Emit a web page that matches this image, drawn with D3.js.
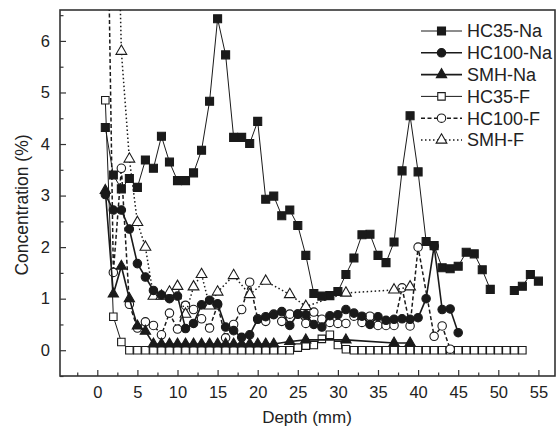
<!DOCTYPE html>
<html>
<head>
<meta charset="utf-8">
<style>
body { margin: 0; background: #fff; }
svg { font-family: "Liberation Sans", Arial, sans-serif; }
.axis path { display: none; }
.axis line { stroke: #333; stroke-width: 1.2; }
.axis text { font-size: 16.5px; fill: #222; }
</style>
</head>
<body>
<script src="https://d3js.org/d3.v7.min.js"></script>
<script>

// depths (mm) and concentrations (%)
const hc35NaDepth = d3.range(1, 56);
const hc35NaVal = [4.32, 3.40, 3.13, 3.33, 3.16, 3.69, 3.53, 4.15, 3.65, 3.29,
  3.29, 3.44, 3.88, 4.83, 6.43, 5.73, 4.13, 4.13, 4.01, 4.44,
  2.93, 2.99, 2.61, 2.72, 2.42, 1.84, 1.10, 1.05, 1.06, 1.14,
  1.47, 1.79, 2.24, 2.25, 1.84, 1.70, 2.10, 3.48, 4.55, 3.46,
  2.11, 2.03, 1.60, 1.58, 1.63, 1.90, 1.87, 1.56, 1.18, null,
  null, 1.16, 1.24, 1.47, 1.34];

const hc100NaDepth = d3.range(1, 46);
const hc100NaVal = [3.02, 2.72, 2.72, 2.35, 1.68, 1.42, 1.16, 1.07, 1.00, 1.05,
  0.42, 0.52, 0.88, 0.97, 0.90, 0.45, 0.38, 0.25, 0.30, 0.60,
  0.65, 0.69, 0.75, 0.48, 0.70, 0.69, 0.50, 0.45, 0.67, 0.69,
  0.79, 0.72, 0.66, 0.50, 0.65, 0.58, 0.60, 0.61, 0.60, 0.63,
  1.00, 2.02, 0.79, 0.80, 0.34];

const smhNaDepth = [1, 2, 3, 4, 5, 6, 7, 8, 9, 10, 11, 12, 13, 14, 15, 16, 17, 18, 19, 20, 21, 22, 24, 26, 31, 37, 39];
const smhNaVal = [3.10, 1.09, 1.63, 1.00, 0.47, 0.37, 0.12, 0.12, 0.12, 0.12,
  0.12, 0.12, 0.12, 0.12, 0.12, 0.12, 0.12, 0.12, 0.12, 0.12,
  0.12, 0.12, 0.17, 0.20, 0.20, 0.14, 0.14];

const hc35FDepth = d3.range(1, 54);
const hc35FVal = [4.85, 0.65, 0.16, 0, 0, 0, 0, 0, 0, 0,
  0, 0, 0, 0, 0, 0, 0, 0, 0, 0,
  0, 0, 0, 0, 0.05, 0.09, 0.10, 0.22, 0.30, 0.10,
  0.02, 0, 0, 0, 0, 0, 0, 0, 0, 0,
  0, 0, 0, 0, 0, 0, 0, 0, 0, 0,
  0, 0, 0];

const hc100FDepth = d3.range(1, 41).concat([42, 43, 44]);
const hc100FVal = [11.7, 1.51, 3.53, 0.89, 0.43, 0.55, 0.48, 0.30, 0.72, 0.41,
  0.87, 0.79, 0.61, 0.43, 0.88, 0.24, 0.50, 0.79, 1.32, 0.61,
  0.56, 0.70, 0.56, 0.70, 0.70, 0.52, 0.74, 0.60, 0.54, 0.52,
  0.52, 0.66, 0.54, 0.66, 0.48, 0.48, 0.48, 1.21, 0.47, 2.00,
  0.27, 0.47, 0.02];

const smhFDepth = [2, 3, 4, 5, 6, 7, 8, 9, 10, 11, 12, 13, 14, 15, 17, 19, 21, 24, 26, 31, 37, 39];
const smhFVal = [12.5, 5.80, 3.71, 2.48, 2.00, 1.05, 1.05, 1.13, 1.24, 0.70,
  1.23, 1.47, 0.86, 1.13, 1.45, 1.08, 1.34, 1.08, 0.85, 1.11, 1.17, 1.23];

const seriesNames = ["HC35-Na", "HC100-Na", "SMH-Na", "HC35-F", "HC100-F", "SMH-F"];

const xTicks = [0, 5, 10, 15, 20, 25, 30, 35, 40, 45, 50, 55];
const yTicks = [0, 1, 2, 3, 4, 5, 6];

// ---- layout
const W = 557, H = 433;
const plot = {left: 60, right: 555, top: 10, bottom: 376};

const x = d3.scaleLinear().domain([-4.65, 57.07]).range([plot.left, plot.right]);
const y = d3.scaleLinear().domain([-0.5, 6.6]).range([plot.bottom, plot.top]);

const svg = d3.select("body").append("svg")
    .attr("width", W)
    .attr("height", H);

svg.append("defs").append("clipPath").attr("id", "clip")
  .append("rect")
    .attr("x", plot.left).attr("y", plot.top)
    .attr("width", plot.right - plot.left)
    .attr("height", plot.bottom - plot.top);

// axes, ticks pointing inward
svg.append("g").attr("class", "axis")
    .attr("transform", "translate(0," + plot.bottom + ")")
    .call(d3.axisBottom(x).tickValues(xTicks).tickSize(-6).tickPadding(10));
svg.append("g").attr("class", "axis")
    .attr("transform", "translate(0," + plot.bottom + ")")
    .call(d3.axisBottom(x).tickValues(d3.range(-2.5, 57, 5)).tickSize(-3.5).tickFormat(""));

svg.append("g").attr("class", "axis")
    .attr("transform", "translate(" + plot.left + ",0)")
    .call(d3.axisLeft(y).tickValues(yTicks).tickSize(-6).tickPadding(10));
svg.append("g").attr("class", "axis")
    .attr("transform", "translate(" + plot.left + ",0)")
    .call(d3.axisLeft(y).tickValues(d3.range(-0.5, 6.6, 1)).tickSize(-3.5).tickFormat(""));

// frame
svg.append("rect")
    .attr("x", plot.left).attr("y", plot.top)
    .attr("width", plot.right - plot.left)
    .attr("height", plot.bottom - plot.top)
    .attr("fill", "none")
    .attr("stroke", "#333")
    .attr("stroke-width", 1.6);

// axis titles
svg.append("text")
    .attr("x", 307).attr("y", 423)
    .attr("text-anchor", "middle")
    .style("font-size", "17px").style("fill", "#222")
    .text("Depth (mm)");

svg.append("text")
    .attr("transform", "translate(28,205) rotate(-90)")
    .attr("text-anchor", "middle")
    .style("font-size", "17.5px").style("fill", "#222")
    .text("Concentration (%)");

// ---- series
const ink = "#1a1a1a";
const styles = [
  {sym: d3.symbolSquare, size: 64, fill: ink, width: 1, dash: null},
  {sym: d3.symbolCircle, size: 56, fill: ink, width: 1.6, dash: null},
  {sym: d3.symbolTriangle, size: 46, fill: ink, width: 1.6, dash: null},
  {sym: d3.symbolSquare, size: 56, fill: "#fff", width: 1, dash: null},
  {sym: d3.symbolCircle, size: 56, fill: "#fff", width: 1.5, dash: "4,2.5"},
  {sym: d3.symbolTriangle, size: 50, fill: "#fff", width: 1.5, dash: "1.5,2.5"}
];

function pairs(depths, vals) {
  return depths.map((d, i) => ({d: d, v: vals[i]}));
}

const allSeries = [
  pairs(hc35NaDepth, hc35NaVal),
  pairs(hc100NaDepth, hc100NaVal),
  pairs(smhNaDepth, smhNaVal),
  pairs(hc35FDepth, hc35FVal),
  pairs(hc100FDepth, hc100FVal),
  pairs(smhFDepth, smhFVal)
];

const line = d3.line()
    .defined(p => p.v !== null)
    .x(p => x(p.d))
    .y(p => y(p.v));

const plotG = svg.append("g").attr("clip-path", "url(#clip)");

// draw open (F) series first, Na series on top of their lines
const order = [3, 4, 5, 2, 1, 0];
order.forEach(function(k) {
  const st = styles[k];
  const data = allSeries[k];
  const g = plotG.append("g");
  g.append("path")
      .datum(data)
      .attr("fill", "none")
      .attr("stroke", ink)
      .attr("stroke-width", st.width)
      .attr("stroke-dasharray", st.dash)
      .attr("d", line);
  g.selectAll("path.pt")
      .data(data.filter(p => p.v !== null))
    .enter().append("path")
      .attr("class", "pt")
      .attr("transform", p => "translate(" + x(p.d) + "," + y(p.v) + ")")
      .attr("d", d3.symbol().type(st.sym).size(st.size))
      .attr("fill", st.fill)
      .attr("stroke", ink)
      .attr("stroke-width", 1.1);
});

// ---- legend
const legend = svg.append("g");
seriesNames.forEach(function(name, i) {
  const st = styles[i];
  const ly = 31 + i * 21.8;
  legend.append("line")
      .attr("x1", 421).attr("x2", 462)
      .attr("y1", ly).attr("y2", ly)
      .attr("stroke", ink)
      .attr("stroke-width", st.width)
      .attr("stroke-dasharray", st.dash);
  legend.append("path")
      .attr("transform", "translate(441.5," + ly + ")")
      .attr("d", d3.symbol().type(st.sym).size(st.size))
      .attr("fill", st.fill)
      .attr("stroke", ink)
      .attr("stroke-width", 1.1);
  legend.append("text")
      .attr("x", 467).attr("y", ly)
      .attr("dy", "0.35em")
      .style("font-size", "18px").style("fill", "#222")
      .text(name);
});

</script>
</body>
</html>
